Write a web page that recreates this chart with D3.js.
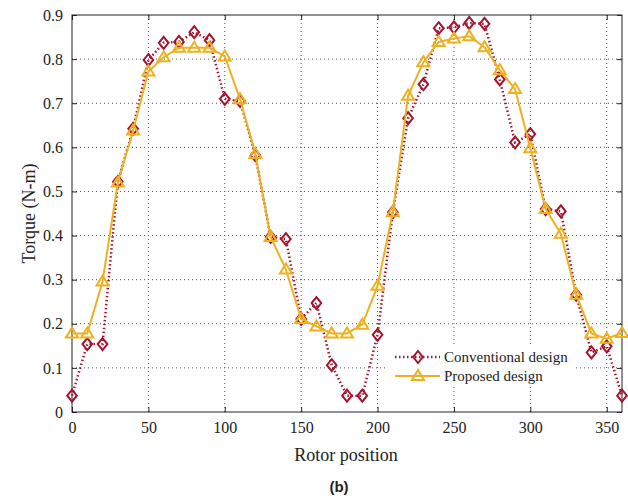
<!DOCTYPE html>
<html>
<head>
<meta charset="utf-8">
<script src="https://cdn.jsdelivr.net/npm/d3@7"></script>
<style>
  body { margin: 0; background: #fff; }
  svg { display: block; }
</style>
</head>
<body>
<svg id="svg" width="628" height="500"></svg>
<script>
const positions = d3.range(0, 361, 10);

const conventional = [
    0.037, 0.154, 0.154, 0.522, 0.642, 0.798, 0.837, 0.839, 0.861, 0.843,
    0.710, 0.705, 0.582, 0.397, 0.392, 0.211, 0.247, 0.106, 0.037, 0.037,
    0.175, 0.453, 0.666, 0.743, 0.870, 0.872, 0.882, 0.880, 0.754, 0.611,
    0.630, 0.460, 0.455, 0.266, 0.135, 0.149, 0.037
];

const proposed = [
    0.178, 0.178, 0.296, 0.520, 0.638, 0.772, 0.804, 0.826, 0.826, 0.826,
    0.806, 0.709, 0.585, 0.397, 0.323, 0.211, 0.194, 0.178, 0.178, 0.198,
    0.286, 0.453, 0.717, 0.793, 0.839, 0.847, 0.852, 0.827, 0.775, 0.732,
    0.598, 0.460, 0.404, 0.266, 0.178, 0.166, 0.179
];

const xTicks = [0, 50, 100, 150, 200, 250, 300, 350];
const yTicks = [0, 0.1, 0.2, 0.3, 0.4, 0.5, 0.6, 0.7, 0.8, 0.9];
const seriesNames = ["Conventional design", "Proposed design"];

const margin = {left: 72, right: 6, top: 15, bottom: 88};
const width = 628, height = 500;
const serif = "'Liberation Serif', 'Times New Roman', serif";
const svg = d3.select("#svg");

const x = d3.scaleLinear().domain([0, 360]).range([margin.left, width - margin.right]);
const y = d3.scaleLinear().domain([0, 0.9]).range([height - margin.bottom, margin.top]);

const red = "#a2142f";
const orange = "#edb120";

// grid
const grid = svg.append("g");
grid.selectAll("line.vg")
    .data(xTicks.filter(d => d > 0))
    .enter().append("line")
    .attr("x1", d => x(d)).attr("x2", d => x(d))
    .attr("y1", y(0)).attr("y2", y(0.9))
    .attr("stroke", "#555").attr("stroke-width", 1)
    .attr("stroke-dasharray", "1,3");
grid.selectAll("line.hg")
    .data(yTicks.filter(d => d > 0 && d < 0.9))
    .enter().append("line")
    .attr("x1", x(0)).attr("x2", x(360))
    .attr("y1", d => y(d)).attr("y2", d => y(d))
    .attr("stroke", "#555").attr("stroke-width", 1)
    .attr("stroke-dasharray", "1,3");

// legend background (covers grid)
svg.append("rect")
    .attr("x", 387).attr("y", 345)
    .attr("width", 187).attr("height", 41)
    .attr("fill", "#fff");

// axes with inward ticks
const tickLen = 5;
const axBottom = svg.append("g")
    .attr("transform", `translate(0,${y(0)})`)
    .call(d3.axisBottom(x).tickValues(xTicks).tickSize(-tickLen).tickPadding(10).tickFormat(d3.format("d")));
const axTop = svg.append("g")
    .attr("transform", `translate(0,${y(0.9)})`)
    .call(d3.axisTop(x).tickValues(xTicks).tickSize(-tickLen).tickFormat(""));
const axLeft = svg.append("g")
    .attr("transform", `translate(${x(0)},0)`)
    .call(d3.axisLeft(y).tickValues(yTicks).tickSize(-tickLen).tickPadding(9)
        .tickFormat(d => d === 0 ? "0" : d3.format(".1f")(d)));
const axRight = svg.append("g")
    .attr("transform", `translate(${x(360)},0)`)
    .call(d3.axisRight(y).tickValues(yTicks).tickSize(-tickLen).tickFormat(""));

[axBottom, axTop, axLeft, axRight].forEach(g => {
    g.select(".domain").remove();
    g.attr("font-family", null);
    g.selectAll("line").attr("stroke", "#222");
    g.selectAll("text")
        .style("font-family", serif)
        .style("font-size", "16px").attr("fill", "#222");
});

svg.append("rect")
    .attr("x", x(0)).attr("y", y(0.9))
    .attr("width", x(360) - x(0)).attr("height", y(0) - y(0.9))
    .attr("fill", "none").attr("stroke", "#222").attr("stroke-width", 1);

// data
const line = d3.line().x((d, i) => x(positions[i])).y(d => y(d));

const diamond = (cx, cy) => `M${cx},${cy - 6} L${cx + 4.8},${cy} L${cx},${cy + 6} L${cx - 4.8},${cy} Z`;
const triangle = (cx, cy) => `M${cx},${cy - 6} L${cx + 6},${cy + 4} L${cx - 6},${cy + 4} Z`;

svg.append("path")
    .datum(conventional)
    .attr("d", line)
    .attr("fill", "none").attr("stroke", red)
    .attr("stroke-width", 2.5).attr("stroke-dasharray", "1.5,2.5");
svg.selectAll("path.dia")
    .data(conventional)
    .enter().append("path")
    .attr("class", "dia")
    .attr("d", (d, i) => diamond(x(positions[i]), y(d)))
    .attr("fill", "none").attr("stroke", red).attr("stroke-width", 2);

svg.append("path")
    .datum(proposed)
    .attr("d", line)
    .attr("fill", "none").attr("stroke", orange)
    .attr("stroke-width", 2);
svg.selectAll("path.tri")
    .data(proposed)
    .enter().append("path")
    .attr("class", "tri")
    .attr("d", (d, i) => triangle(x(positions[i]), y(d)))
    .attr("fill", "none").attr("stroke", orange).attr("stroke-width", 2);

// legend
const leg = svg.append("g");
const rowY = [357, 376];
leg.append("line")
    .attr("x1", 395).attr("x2", 440).attr("y1", rowY[0]).attr("y2", rowY[0])
    .attr("stroke", red).attr("stroke-width", 2.5).attr("stroke-dasharray", "1.5,2.5");
leg.append("path").attr("d", diamond(418, rowY[0]))
    .attr("fill", "none").attr("stroke", red).attr("stroke-width", 2);
leg.append("line")
    .attr("x1", 395).attr("x2", 440).attr("y1", rowY[1]).attr("y2", rowY[1])
    .attr("stroke", orange).attr("stroke-width", 2);
leg.append("path").attr("d", triangle(418, rowY[1]))
    .attr("fill", "none").attr("stroke", orange).attr("stroke-width", 2);
leg.selectAll("text")
    .data(seriesNames)
    .enter().append("text")
    .attr("x", 444).attr("y", (d, i) => rowY[i] + 5)
    .style("font-family", serif).style("font-size", "15px").attr("fill", "#222")
    .text(d => d);

// labels
svg.append("text")
    .attr("x", 346).attr("y", 461)
    .attr("text-anchor", "middle")
    .style("font-family", serif).style("font-size", "18px").attr("fill", "#222")
    .text("Rotor position");
svg.append("text")
    .attr("transform", `translate(35,${(y(0) + y(0.9)) / 2}) rotate(-90)`)
    .attr("text-anchor", "middle")
    .style("font-family", serif).style("font-size", "18px").attr("fill", "#222")
    .text("Torque (N-m)");
svg.append("text")
    .attr("x", 339).attr("y", 492)
    .attr("text-anchor", "middle")
    .style("font-family", "'Liberation Sans', Arial, sans-serif")
    .style("font-size", "15px").style("font-weight", "bold").attr("fill", "#222")
    .text("(b)");
</script>
</body>
</html>
